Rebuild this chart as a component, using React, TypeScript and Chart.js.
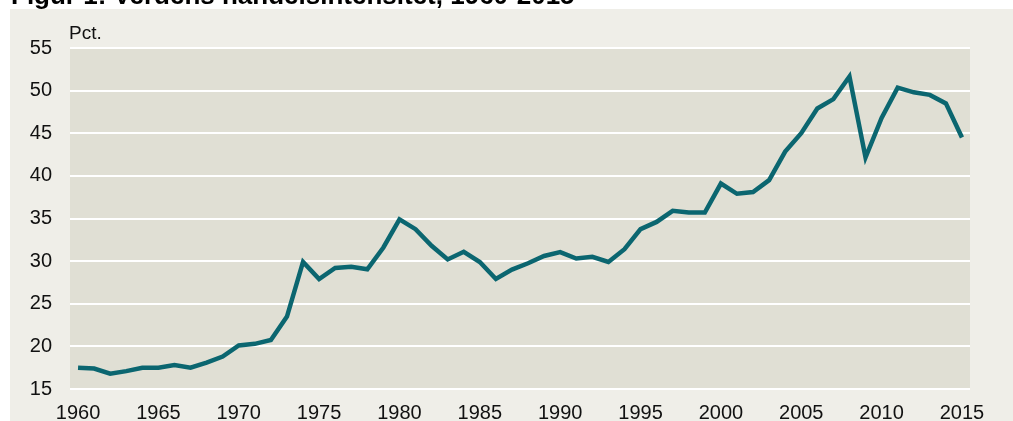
import React, { useEffect, useRef } from "react";
import { Chart, registerables } from "chart.js";

Chart.register(...registerables);

const years: string[] = [];
for (let y = 1960; y <= 2015; y++) years.push(String(y));

const tradeIntensity: number[] = [
  17.5, 17.4, 16.8, 17.1, 17.5, 17.5, 17.8, 17.5, 18.1, 18.8,
  20.1, 20.3, 20.75, 23.5, 29.9, 27.9, 29.2, 29.35, 29.05, 31.6,
  34.9, 33.75, 31.8, 30.2, 31.1, 29.9, 27.9, 29.0, 29.75, 30.6,
  31.05, 30.3, 30.5, 29.9, 31.4, 33.75, 34.6, 35.9, 35.7, 35.7,
  39.1, 37.9, 38.1, 39.5, 42.85, 45.0, 47.9, 49.0, 51.65, 42.15,
  46.8, 50.35, 49.8, 49.5, 48.5, 44.5,
];

const titleText = "Figur 1: Verdens handelsintensitet, 1960-2015";
const unitLabel = "Pct.";

const FONT = "'Liberation Sans', Arial, sans-serif";

const bgPlugin = {
  id: "bgPlugin",
  beforeDraw(chart: any) {
    const { ctx, chartArea, width, height } = chart;
    ctx.save();
    ctx.fillStyle = "#ffffff";
    ctx.fillRect(0, 0, width, height);
    ctx.fillStyle = "#efeee8";
    ctx.fillRect(10, 9, width - 10, height - 9);
    ctx.fillStyle = "#e0dfd4";
    ctx.fillRect(chartArea.left, chartArea.top, chartArea.right - chartArea.left, chartArea.bottom - chartArea.top);
    ctx.restore();
  },
  afterDraw(chart: any) {
    const { ctx } = chart;
    ctx.save();
    ctx.fillStyle = "#000000";
    ctx.textBaseline = "alphabetic";
    ctx.textAlign = "left";
    ctx.font = `bold 26px ${FONT}`;
    ctx.fillText(titleText, 11, 4);
    ctx.fillStyle = "#111111";
    ctx.font = `19px ${FONT}`;
    ctx.fillText(unitLabel, 69, 39);
    ctx.restore();
  },
};

export default function App() {
  const ref = useRef<HTMLCanvasElement>(null);
  useEffect(() => {
    document.body.style.margin = "0";
    const canvas = ref.current!;
    const chart = new Chart(canvas, {
      type: "line",
      data: {
        labels: years,
        datasets: [
          {
            data: tradeIntensity,
            borderColor: "#0b6670",
            borderWidth: 4.5,
            pointRadius: 0,
            tension: 0,
            fill: false,
            borderJoinStyle: "miter",
          },
        ],
      },
      options: {
        animation: false,
        responsive: false,
        maintainAspectRatio: false,
        devicePixelRatio: 1,
        layout: { padding: { top: 48, right: 43, left: 0, bottom: 0 } },
        plugins: { legend: { display: false }, tooltip: { enabled: false }, title: { display: false } },
        scales: {
          x: {
            type: "category",
            offset: true,
            grid: { display: false, drawTicks: false },
            border: { display: false },
            ticks: {
              autoSkip: false,
              maxRotation: 0,
              minRotation: 0,
              padding: 12,
              color: "#111111",
              font: { family: FONT, size: 20 },
              callback: (_v: any, i: number) => (Number(years[i]) % 5 === 0 ? years[i] : ""),
            },
            afterFit: (s: any) => { s.height = 32; },
          },
          y: {
            min: 15,
            max: 55,
            grid: { color: "#ffffff", lineWidth: 2, drawTicks: false },
            border: { display: false },
            ticks: {
              stepSize: 5,
              padding: 18,
              color: "#111111",
              font: { family: FONT, size: 20 },
            },
            afterFit: (s: any) => { s.width = 70; },
          },
        },
      },
      plugins: [bgPlugin],
    });
    return () => chart.destroy();
  }, []);
  return <canvas ref={ref} width={1013} height={421} style={{ display: "block", width: 1013, height: 421 }} />;
}
